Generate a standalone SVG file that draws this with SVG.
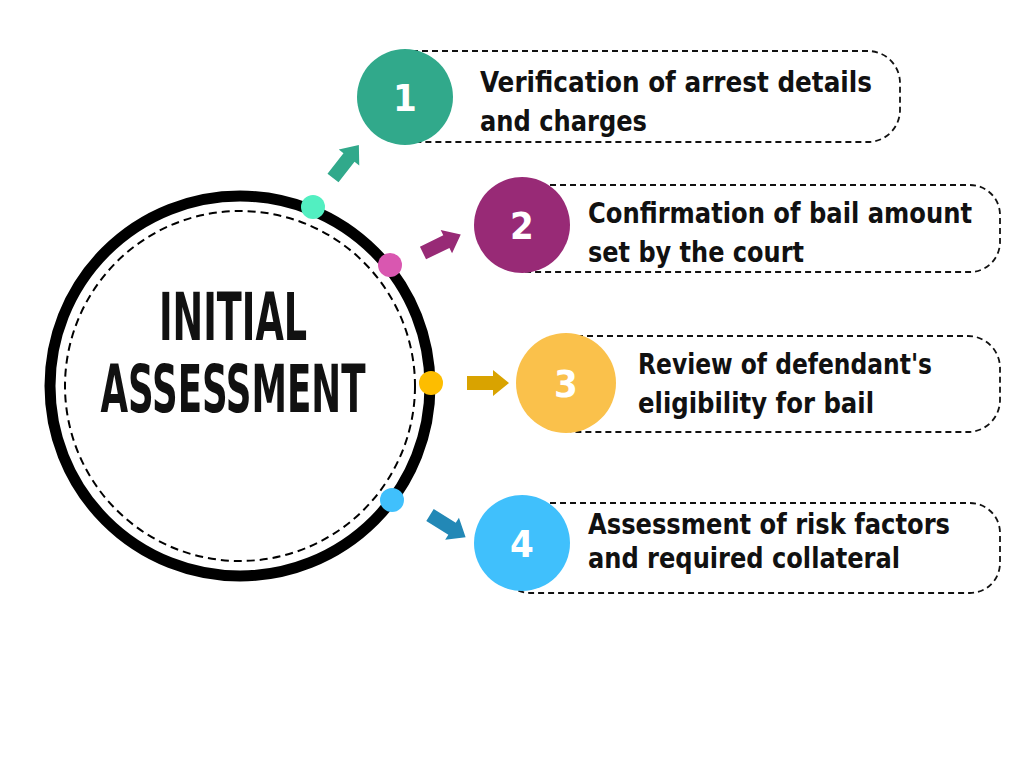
<svg xmlns="http://www.w3.org/2000/svg" width="1024" height="768" viewBox="0 0 1024 768">
<style>
.box{fill:#fff;stroke:#111;stroke-width:1.8;stroke-dasharray:6 4}
.lbl{font-family:"DejaVu Sans",sans-serif;font-stretch:condensed;font-weight:bold;font-size:29px;fill:#111}
.num{font-family:"DejaVu Sans",sans-serif;font-stretch:condensed;font-weight:bold;font-size:38px;fill:#fff;text-anchor:middle}
.title{font-family:"DejaVu Sans",sans-serif;font-stretch:condensed;font-weight:bold;font-size:66px;fill:#111;text-anchor:middle}
</style>
<defs>
<path id="arr" d="M0,-7 L26,-7 L26,-13 L42,0 L26,13 L26,7 L0,7 Z"/>
</defs>
<rect width="1024" height="768" fill="#fff"/>
<g id="center">
<circle cx="240" cy="386" r="190" fill="#fff" stroke="#000" stroke-width="11"/>
<circle cx="240" cy="386" r="175" fill="none" stroke="#000" stroke-width="2" stroke-dasharray="8 5"/>
<text class="title" x="233" y="340" textLength="148" lengthAdjust="spacingAndGlyphs">INITIAL</text>
<text class="title" x="233" y="412" textLength="265" lengthAdjust="spacingAndGlyphs">ASSESSMENT</text>
</g>
<g id="connectors">
<use href="#arr" fill="#31a98b" transform="translate(333,178) rotate(-52)"/>
<use href="#arr" fill="#982a76" transform="translate(423,253) rotate(-26)"/>
<use href="#arr" fill="#d9a300" transform="translate(467,383)"/>
<use href="#arr" fill="#2288b6" transform="translate(430,515) rotate(32)"/>
<circle cx="313" cy="207" r="12" fill="#52efc1"/>
<circle cx="390" cy="265" r="12" fill="#d957b0"/>
<circle cx="431" cy="383" r="12" fill="#fdbd00"/>
<circle cx="392" cy="500" r="12" fill="#40c0fc"/>
</g>
<g id="step1">
<rect class="box" x="380" y="51" width="520" height="91" rx="32"/>
<circle cx="405" cy="97" r="48" fill="#31a98b"/>
<text class="num" x="405" y="111">1</text>
<text class="lbl" x="480" y="92" textLength="392" lengthAdjust="spacingAndGlyphs">Verification of arrest details</text>
<text class="lbl" x="480" y="131" textLength="167" lengthAdjust="spacingAndGlyphs">and charges</text>
</g>
<g id="step2">
<rect class="box" x="500" y="185" width="500" height="87" rx="30"/>
<circle cx="522" cy="225" r="48" fill="#982a76"/>
<text class="num" x="522" y="239">2</text>
<text class="lbl" x="588" y="223" textLength="384" lengthAdjust="spacingAndGlyphs">Confirmation of bail amount</text>
<text class="lbl" x="588" y="262" textLength="216" lengthAdjust="spacingAndGlyphs">set by the court</text>
</g>
<g id="step3">
<rect class="box" x="545" y="336" width="455" height="96" rx="32"/>
<circle cx="566" cy="383" r="50" fill="#fac14b"/>
<text class="num" x="566" y="397">3</text>
<text class="lbl" x="638" y="374" textLength="294" lengthAdjust="spacingAndGlyphs">Review of defendant's</text>
<text class="lbl" x="638" y="413" textLength="236" lengthAdjust="spacingAndGlyphs">eligibility for bail</text>
</g>
<g id="step4">
<rect class="box" x="500" y="503" width="500" height="90" rx="30"/>
<circle cx="522" cy="543" r="48" fill="#40c0fc"/>
<text class="num" x="522" y="557">4</text>
<text class="lbl" x="588" y="534" textLength="362" lengthAdjust="spacingAndGlyphs">Assessment of risk factors</text>
<text class="lbl" x="588" y="568" textLength="312" lengthAdjust="spacingAndGlyphs">and required collateral</text>
</g>
</svg>
